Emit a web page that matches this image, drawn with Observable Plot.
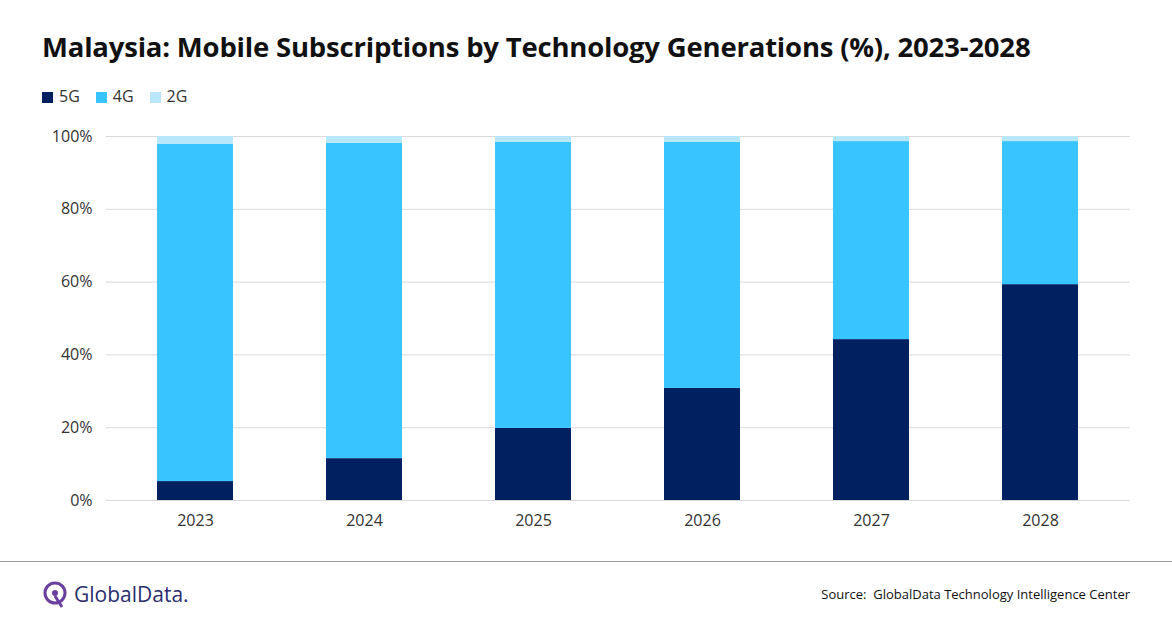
<!DOCTYPE html>
<html><head><meta charset="utf-8">
<script src="https://cdn.jsdelivr.net/npm/d3@7"></script>
<script src="https://cdn.jsdelivr.net/npm/@observablehq/plot@0.6"></script>
<style>
body{margin:0;width:1172px;height:628px;background:#fff;font-family:Calibri,Carlito,"Liberation Sans",Arial,sans-serif;position:relative;overflow:hidden}
#title{position:absolute;left:42px;top:28px;font-size:27.5px;font-weight:bold;color:#111;font-family:"Open Sans","Liberation Sans",sans-serif;letter-spacing:-0.2px}
#legend{position:absolute;left:42px;top:85px;font-size:16px;color:#333;display:flex;gap:16px;font-family:"Open Sans",sans-serif}
#legend span i{display:inline-block;width:11px;height:11px;margin-right:6px;vertical-align:-1px}
#chart{position:absolute;left:0;top:120px}
#sep{position:absolute;left:0;top:561px;width:1172px;height:1px;background:#999}
#source{position:absolute;right:42px;top:585px;font-size:13px;color:#111;font-family:"Open Sans",sans-serif}
#logo{position:absolute;left:42px;top:580px;font-size:21px;color:#2b2d6e;font-family:"Open Sans",sans-serif;display:flex;align-items:center;gap:6px}
</style></head><body>
<div id="title">Malaysia: Mobile Subscriptions by Technology Generations (%), 2023-2028</div>
<div id="legend"></div>
<div id="chart"></div>
<div id="sep"></div>
<div id="logo"><svg width="26" height="28" viewBox="0 0 26 28"><circle cx="13" cy="13" r="10" fill="none" stroke="#6b3fa0" stroke-width="3"/><circle cx="13" cy="13" r="3" fill="#6b3fa0"/><line x1="13" y1="16" x2="20" y2="27" stroke="#6b3fa0" stroke-width="3"/></svg>GlobalData.</div>
<div id="source">Source:&nbsp; GlobalData Technology Intelligence Center</div>
<script>
const years = ["2023","2024","2025","2026","2027","2028"];
const series = ["5G","4G","2G"];
const colors = ["#002060","#38c4ff","#b8e6fb"];
const v5G = [5.2,11.5,19.8,30.8,44.2,59.3];
const v4G = [92.6,86.6,78.6,67.6,54.4,39.3];
const v2G = [2.2,1.9,1.6,1.6,1.4,1.4];
const vals = {"5G":v5G,"4G":v4G,"2G":v2G};
const data = series.flatMap(s => years.map((y,i)=>({year:y, tech:s, value:vals[s][i]})));
document.getElementById("legend").innerHTML = series.map((s,i)=>`<span><i style="background:${colors[i]}"></i>${s}</span>`).join("");
const plot = Plot.plot({
  width:1172, height:430, marginTop:16, marginBottom:50, marginLeft:106, marginRight:42,
  style:{fontSize:"16px", fontFamily:"'Open Sans',sans-serif", color:"#333"},
  x:{domain:years, label:null, paddingInner:0.55, paddingOuter:0.29, tickSize:0, tickPadding:14},
  y:{domain:[0,100], ticks:[0,20,40,60,80,100], tickFormat:d=>d+"%", label:null, tickSize:0, tickPadding:14},
  color:{domain:series, range:colors},
  marks:[
    Plot.gridY([0,20,40,60,80,100],{stroke:"#d9d9d9", strokeOpacity:1}),
    Plot.barY(data,{x:"year", y:"value", fill:"tech", order:series}),
    Plot.ruleY([0],{stroke:"#d9d9d9"})
  ]
});
document.getElementById("chart").appendChild(plot);
</script></body></html>
